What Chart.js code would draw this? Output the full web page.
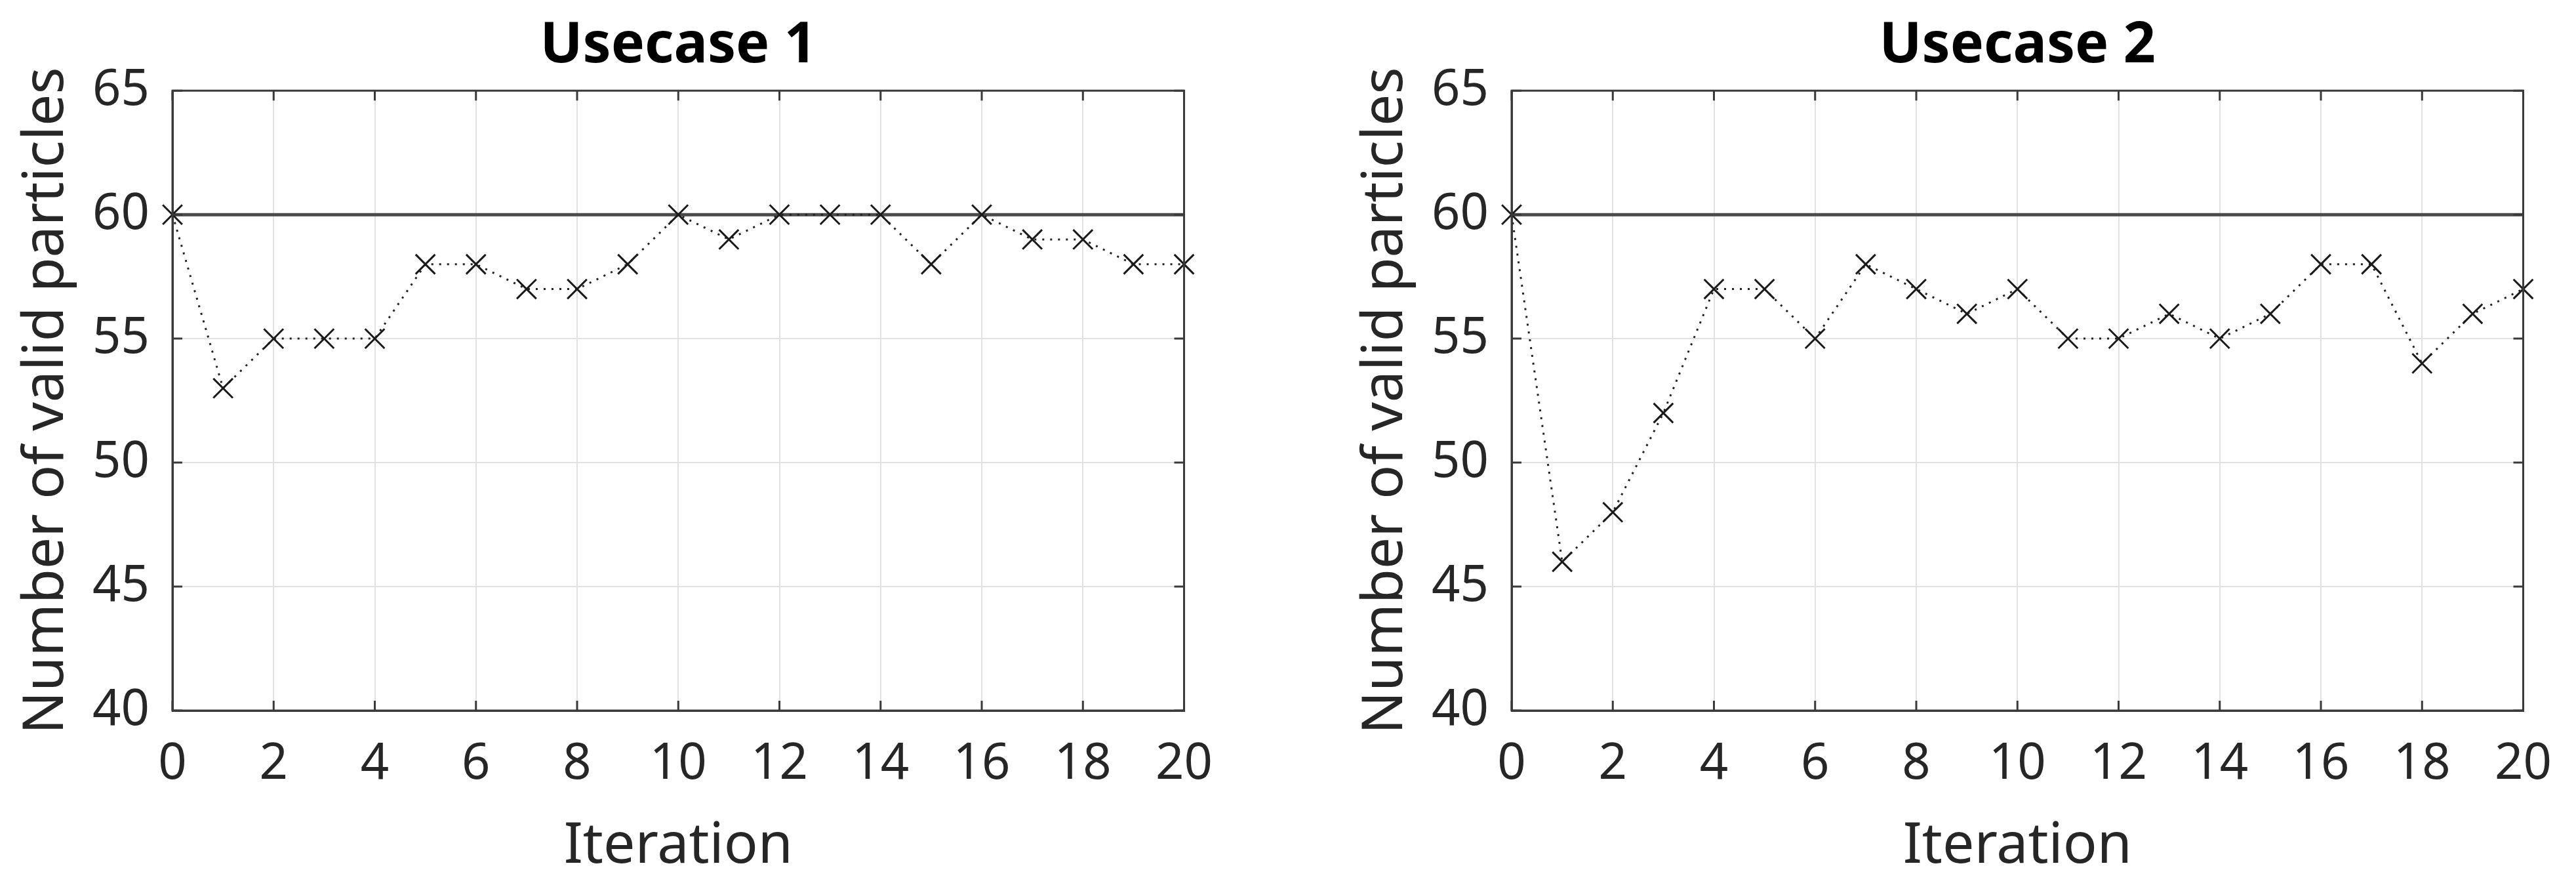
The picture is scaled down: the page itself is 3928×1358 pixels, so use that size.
<!DOCTYPE html>
<html><head><meta charset="utf-8">
<script src="https://cdn.jsdelivr.net/npm/chart.js@4.4.1/dist/chart.umd.min.js"></script>
<style>
html,body{margin:0;padding:0;background:#fff;}
#wrap{position:relative;width:3928px;height:1358px;background:#fff;}
.c{position:absolute;top:0;width:1886px;height:1358px;}
</style></head><body>
<div id="wrap">
<div class="c" style="left:0px"><canvas id="c1" width="1886" height="1358"></canvas></div>
<div class="c" style="left:2042px"><canvas id="c2" width="1886" height="1358"></canvas></div>
</div>
<script>
// ---- data ----
const iterations = [0,1,2,3,4,5,6,7,8,9,10,11,12,13,14,15,16,17,18,19,20];
const usecase1 = [60,53,55,55,55,58,58,57,57,58,60,59,60,60,60,58,60,59,59,58,58];
const usecase2 = [60,46,48,52,57,57,55,58,57,56,57,55,55,56,55,56,58,58,54,56,57];
const referenceLevel = 60;
const xTickValues = [0,2,4,6,8,10,12,14,16,18,20];
const yTickValues = [40,45,50,55,60,65];
const panelTitles = ['Usecase 1','Usecase 2'];
const xLabel = 'Iteration';
const yLabel = 'Number of valid particles';

const FONT = "'Noto Sans', 'Open Sans', sans-serif";
const AXIS_COLOR = '#3a3a3a';
const TEXT_COLOR = '#262626';

const boxPlugin = {
  id: 'matlabBox',
  afterLayout(chart) {
    // centre the title over the plot area, as in the reference
    const tb = chart.titleBlock;
    if (tb) {
      tb.left = chart.chartArea.left;
      tb.right = chart.chartArea.right;
      tb.width = tb.right - tb.left;
    }
  },
  afterDraw(chart) {
    const {ctx, chartArea: a, scales} = chart;
    ctx.save();
    ctx.strokeStyle = AXIS_COLOR;
    ctx.lineWidth = 3;
    const tl = 15;
    ctx.beginPath();
    xTickValues.forEach(v => {
      const px = scales.x.getPixelForValue(v);
      ctx.moveTo(px, a.bottom); ctx.lineTo(px, a.bottom - tl);
      ctx.moveTo(px, a.top); ctx.lineTo(px, a.top + tl);
    });
    yTickValues.forEach(v => {
      const py = scales.y.getPixelForValue(v);
      ctx.moveTo(a.left, py); ctx.lineTo(a.left + tl, py);
      ctx.moveTo(a.right, py); ctx.lineTo(a.right - tl, py);
    });
    ctx.stroke();
    ctx.strokeRect(a.left, a.top, a.right - a.left, a.bottom - a.top);
    ctx.restore();
  }
};

function makeChart(id, title, values) {
  const points = iterations.map((x, i) => ({x, y: values[i]}));
  const refLine = [{x: iterations[0], y: referenceLevel}, {x: iterations[iterations.length-1], y: referenceLevel}];
  return new Chart(document.getElementById(id), {
    type: 'line',
    data: {
      datasets: [
        {
          data: points,
          borderColor: '#222',
          borderWidth: 3,
          borderDash: [3, 9],
          pointStyle: 'crossRot',
          pointRadius: 21,
          pointBorderWidth: 3,
          pointBorderColor: '#1a1a1a',
          pointBackgroundColor: 'rgba(0,0,0,0)',
          tension: 0,
          fill: false,
          clip: false,
          order: 0
        },
        {
          data: refLine,
          borderColor: '#4a4a4a',
          borderWidth: 5,
          pointRadius: 0,
          tension: 0,
          fill: false,
          clip: false,
          order: 1
        }
      ]
    },
    options: {
      responsive: false,
      animation: false,
      devicePixelRatio: 1,
      layout: { padding: { left: 0, right: 75, top: 1, bottom: 0 } },
      plugins: {
        legend: { display: false },
        tooltip: { enabled: false },
        title: {
          display: true,
          text: title,
          color: '#000',
          font: { family: FONT, size: 86, weight: 'bold' },
          padding: { top: 18, bottom: 16 }
        }
      },
      scales: {
        x: {
          type: 'linear',
          min: 0, max: 20,
          afterBuildTicks: s => { s.ticks = xTickValues.map(v => ({value: v})); },
          afterFit: s => { s.height = 275; },
          ticks: { color: TEXT_COLOR, font: { family: FONT, size: 76 }, padding: 37, maxRotation: 0 },
          grid: { color: '#e2e2e2', lineWidth: 2, drawTicks: false },
          border: { display: true, color: AXIS_COLOR, width: 3 },
          title: { display: true, text: xLabel, color: TEXT_COLOR, font: { family: FONT, size: 86 }, padding: { top: 0, bottom: 16 } }
        },
        y: {
          type: 'linear',
          min: 40, max: 65,
          afterBuildTicks: s => { s.ticks = yTickValues.map(v => ({value: v})); },
          afterFit: s => { s.width = 263; },
          ticks: { color: TEXT_COLOR, font: { family: FONT, size: 76 }, padding: 35 },
          grid: { color: '#e2e2e2', lineWidth: 2, drawTicks: false },
          border: { display: true, color: AXIS_COLOR, width: 3 },
          title: { display: true, text: yLabel, color: TEXT_COLOR, font: { family: FONT, size: 86 }, padding: { top: 20, bottom: 0 } }
        }
      }
    },
    plugins: [boxPlugin]
  });
}

makeChart('c1', panelTitles[0], usecase1);
makeChart('c2', panelTitles[1], usecase2);
</script>
</body></html>
